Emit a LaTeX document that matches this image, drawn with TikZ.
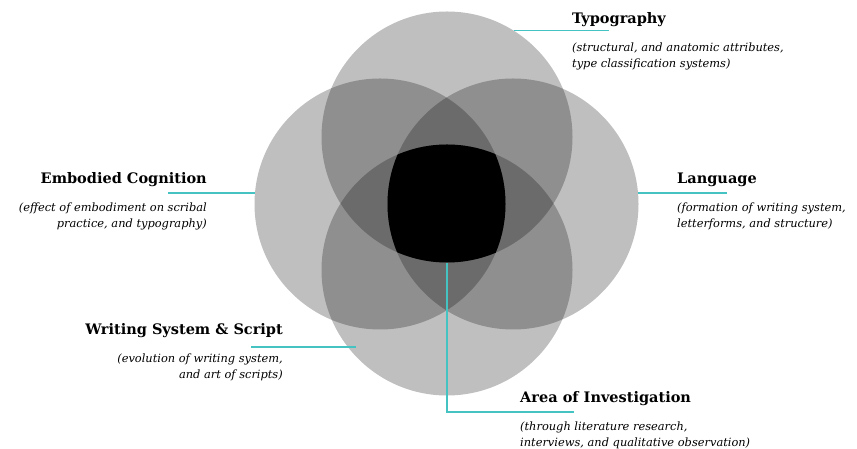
\documentclass[tikz,border=0pt]{standalone}
\usepackage{fontspec}
\setmainfont{DejaVu Serif}
\usetikzlibrary{positioning}
\definecolor{leadcol}{HTML}{45C3C3}

\begin{document}
\begin{tikzpicture}[x=1pt,y=1pt,
		venn/.style={circle, minimum size=251pt, inner sep=0pt, fill=black, fill opacity=0.25},
		title/.style={inner sep=0pt, font=\bfseries\fontsize{14.5}{17}\selectfont},
		desc/.style={inner sep=0pt, font=\itshape\fontsize{11.4}{16}\selectfont},
		leader/.style={draw=leadcol, line width=1.4pt}]
		\useasboundingbox (0,0) rectangle (857,449);
		% the four fields
		\node[venn] (top) at (447,312) {};
		\node[venn] (left) at (380,245) {};
		\node[venn] (right) at (513,245) {};
		\node[venn] (bottom) at (447,179) {};
		\begin{scope}
			\clip (top.center) circle[radius=125.5pt];
			\clip (left.center) circle[radius=125.5pt];
			\clip (right.center) circle[radius=125.5pt];
			\fill[black] (bottom.center) circle[radius=125.5pt];
		\end{scope}
		% labels
		\node[title, anchor=base west] (typo) at (572,425) {Typography};
		\node[desc, align=left, below right=15pt and 0pt of typo.south west] (typodesc) {(structural, and anatomic attributes,\\type classification systems)};
		\node[title, anchor=base east] (emb) at (207,265) {Embodied Cognition};
		\node[desc, align=right, below left=15pt and 0pt of emb.south east] (embdesc) {(effect of embodiment on scribal\\practice, and typography)};
		\node[title, anchor=base west] (lang) at (677,265) {Language};
		\node[desc, align=left, below right=15pt and 0pt of lang.south west] (langdesc) {(formation of writing system,\\letterforms, and structure)};
		\node[title, anchor=base east] (wss) at (283,114) {Writing System \& Script};
		\node[desc, align=right, below left=15pt and 0pt of wss.south east] (wssdesc) {(evolution of writing system,\\and art of scripts)};
		\node[title, anchor=base west] (area) at (520,46) {Area of Investigation};
		\node[desc, align=left, below right=15pt and 0pt of area.south west] (areadesc) {(through literature research,\\interviews, and qualitative observation)};
		% leader lines
		\coordinate (typoend) at (609,0);
		\coordinate (embend) at (168,0);
		\coordinate (langend) at (727,0);
		\coordinate (wssin) at (356,102);
		\coordinate (wssend) at (251,102);
		\coordinate (areaend) at (574,37);
		\draw[leader] (top.58) -- (top.58 -| typoend);
		\draw[leader] (left.175) -- (left.175 -| embend);
		\draw[leader] (right.5) -- (right.5 -| langend);
		\draw[leader] (wssin) -- (wssend);
		\draw[leader] (top.south) |- (areaend);
	\end{tikzpicture}
\end{document}
